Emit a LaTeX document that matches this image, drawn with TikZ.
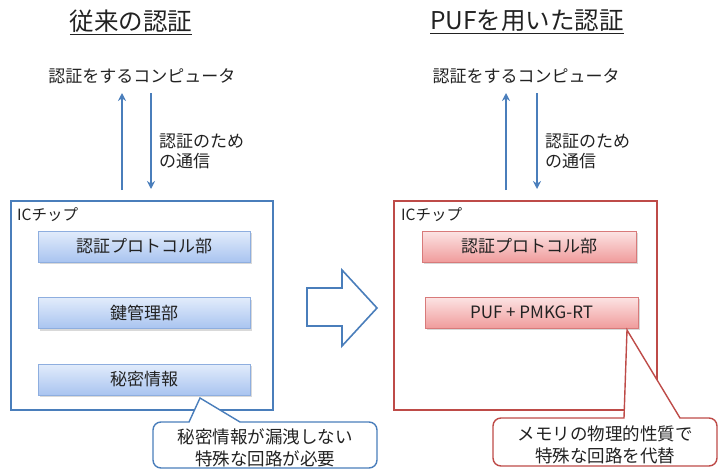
\documentclass[tikz,border=0pt]{standalone}
\usepackage{fontspec}
\setmainfont{Noto Sans CJK JP}
\usetikzlibrary{arrows.meta,shadows}
\definecolor{bline}{HTML}{4A7EBB}
\definecolor{rline}{HTML}{BE4B48}
\definecolor{btop}{HTML}{E2ECFB}
\definecolor{bbot}{HTML}{A9C4F0}
\definecolor{bbord}{HTML}{8EAEDF}
\definecolor{rtop}{HTML}{FCE4E4}
\definecolor{rbot}{HTML}{F09C9C}
\definecolor{rbord}{HTML}{D87A7A}
\definecolor{txt}{HTML}{222222}
\tikzset{
  every node/.style={text=txt},
  title/.style={font=\fontsize{24.5pt}{28pt}\selectfont, inner sep=0pt},
  lbl/.style={font=\fontsize{17pt}{20pt}\selectfont, inner sep=0pt},
  chip/.style={draw, line width=1.4pt, minimum height=209pt, inner sep=0pt},
  bluebox/.style={draw=bbord, line width=0.8pt, top color=btop, bottom color=bbot,
    minimum width=212pt, minimum height=31pt, inner sep=0pt,
    font=\fontsize{17pt}{20pt}\selectfont,
    drop shadow={opacity=0.3, shadow xshift=1.5pt, shadow yshift=-2pt}},
  redbox/.style={draw=rbord, line width=0.8pt, top color=rtop, bottom color=rbot,
    minimum width=213pt, minimum height=31pt, inner sep=0pt,
    font=\fontsize{17pt}{20pt}\selectfont,
    drop shadow={opacity=0.3, shadow xshift=1.5pt, shadow yshift=-2pt}},
  flow/.style={draw=bline, line width=2pt, -{Stealth[length=8pt,width=8pt]}},
  callout/.style={fill=white, line width=1.4pt},
  calltext/.style={font=\fontsize{17.5pt}{22pt}\selectfont, align=center, inner sep=0pt}
}
\begin{document}
\begin{tikzpicture}[x=1pt,y=-1pt]
\useasboundingbox (0,0) rectangle (721,472);
% titles
\node[title] (titleL) at (131,22) {\underline{従来の認証}};
\node[title] (titleR) at (527,22) {\underline{PUFを用いた認証}};
% computers
\node[lbl] (compL) at (142,76) {認証をするコンピュータ};
\node[lbl] (compR) at (526,76) {認証をするコンピュータ};
% communication labels
\node[lbl, anchor=west, align=left] (commL) at (159,151) {認証のため\\の通信};
\node[lbl, anchor=west, align=left] (commR) at (545,151) {認証のため\\の通信};
% IC chips
\node[chip, draw=bline, minimum width=262pt] (icL) at (142,305.5) {};
\node[chip, draw=rline, minimum width=263pt] (icR) at (525.5,305.5) {};
\node[font=\fontsize{15.5pt}{18pt}\selectfont, anchor=west, inner sep=0pt] (icLt) at (17,215) {ICチップ};
\node[font=\fontsize{15.5pt}{18pt}\selectfont, anchor=west, inner sep=0pt] (icRt) at (401,215) {ICチップ};
% arrows
\coordinate (uLb) at (122,190); \coordinate (uLt) at (122,93);
\coordinate (dLt) at (151,93);  \coordinate (dLb) at (151,189);
\coordinate (uRb) at (506,190); \coordinate (uRt) at (506,93);
\coordinate (dRt) at (537,93);  \coordinate (dRb) at (537,189);
\draw[flow] (uLb) -- (uLt);
\draw[flow] (dLt) -- (dLb);
\draw[flow] (uRb) -- (uRt);
\draw[flow] (dRt) -- (dRb);
% inner boxes
\node[bluebox] (authL) at (144,246.5) {認証プロトコル部};
\node[bluebox] (keyL) at (144,313) {鍵管理部};
\node[bluebox] (secL) at (144,379.5) {秘密情報};
\node[redbox, minimum width=214pt] (authR) at (529,246.5) {認証プロトコル部};
\node[redbox] (pufR) at (531.5,312.5) {PUF + PMKG-RT};
% big arrow
\draw[bline, line width=1.6pt, line join=miter] (307,288) -- (342,288) -- (342,270) -- (377,308) -- (342,346) -- (342,326) -- (307,326) -- cycle;
% callouts
\draw[callout, draw=bline] (189,422) -- (200,398) -- (240,422) [rounded corners=8pt] -- (377,422) -- (377,468) -- (153,468) -- (153,422) [sharp corners] -- cycle;
\node[calltext] (noteL) at (265,448) {秘密情報が漏洩しない\\特殊な回路が必要};
\draw[callout, draw=rline] (624,418) -- (627,330) -- (680,418) [rounded corners=8pt] -- (717,418) -- (717,466) -- (493,466) -- (493,418) [sharp corners] -- cycle;
\node[calltext] (noteR) at (605,444.5) {メモリの物理的性質で\\特殊な回路を代替};
\end{tikzpicture}
\end{document}
